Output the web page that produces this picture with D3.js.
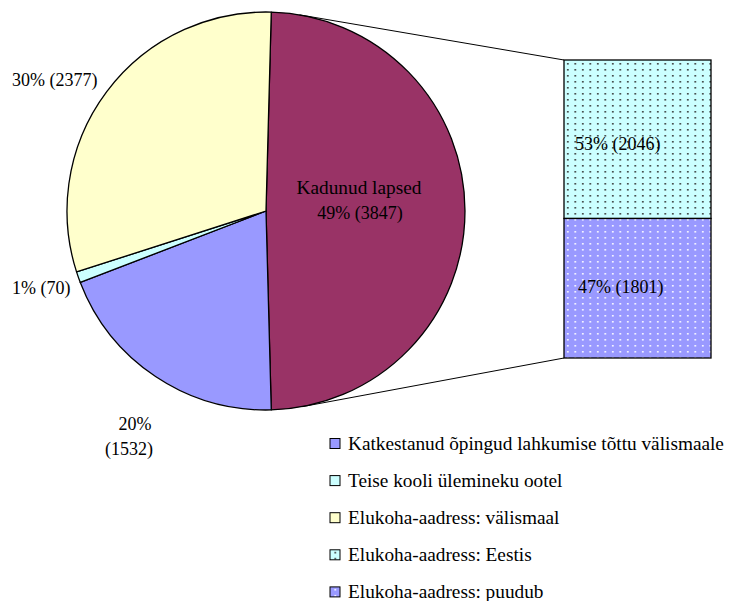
<!DOCTYPE html>
<html><head><meta charset="utf-8">
<script src="https://cdn.jsdelivr.net/npm/d3@7"></script>
<style>body{margin:0;background:#fff}svg{display:block}text{font-family:"Liberation Serif","Times New Roman",serif;font-size:18px;fill:#000}text.w{font-size:19.3px}</style>
</head><body>
<script>
const pieCategories = ["Kadunud lapsed", "Katkestanud õpingud lahkumise tõttu välismaale", "Teise kooli ülemineku ootel", "Elukoha-aadress: välismaal"];
const pieValues = [3847, 1532, 70, 2377];
const piePercent = ["49%", "20%", "1%", "30%"];
const pieColors = ["#993366", "#9999FF", "#CCFFFF", "#FFFFCC"];
const barCategories = ["Elukoha-aadress: Eestis", "Elukoha-aadress: puudub"];
const barValues = [2046, 1801];
const barPercent = ["53%", "47%"];
const legendLabels = ["Katkestanud õpingud lahkumise tõttu välismaale", "Teise kooli ülemineku ootel", "Elukoha-aadress: välismaal", "Elukoha-aadress: Eestis", "Elukoha-aadress: puudub"];

const W = 729, H = 601;
const svg = d3.select("body").append("svg").attr("width", W).attr("height", H);
const defs = svg.append("defs");
function pattern(id, bg, dot) {
  const p = defs.append("pattern").attr("id", id).attr("patternUnits", "userSpaceOnUse")
    .attr("width", 7.5).attr("height", 6).attr("x", 565).attr("y", 61);
  p.append("rect").attr("width", 7.5).attr("height", 6).attr("fill", bg);
  p.append("rect").attr("x", 2).attr("y", 2).attr("width", 1.6).attr("height", 1.6).attr("fill", dot);
}
pattern("pCyan", "#CCFFFF", "#333333");
pattern("pBlue", "#9999FF", "#FFFFFF");

const cx = 266, cy = 211, R = 199;
const total = d3.sum(pieValues);
const start = Math.PI / 2 - Math.PI * pieValues[0] / total;
const pie = d3.pie().sort(null).startAngle(start).endAngle(start + 2 * Math.PI);
const arcs = pie(pieValues);
const arc = d3.arc().innerRadius(0).outerRadius(R);
const g = svg.append("g").attr("transform", `translate(${cx},${cy})`);
g.selectAll("path").data(arcs).join("path")
  .attr("d", arc).attr("fill", (d, i) => pieColors[i])
  .attr("stroke", "#000").attr("stroke-width", 1.3).attr("stroke-linejoin", "round");

// bar
const barX = 564, barW = 147;
const y = d3.scaleLinear().domain([0, d3.sum(barValues)]).range([60, 358]);
const stack = d3.cumsum([0, ...barValues]);
const barFills = ["url(#pCyan)", "url(#pBlue)"];
svg.selectAll("rect.bar").data(barValues).join("rect").attr("class", "bar")
  .attr("x", barX).attr("width", barW)
  .attr("y", (d, i) => y(stack[i])).attr("height", (d, i) => y(stack[i + 1]) - y(stack[i]))
  .attr("fill", (d, i) => barFills[i]).attr("stroke", "#000").attr("stroke-width", 1.3);

// connector lines tangent to pie
function tangent(px, py, upper) {
  const dx = px - cx, dy = py - cy, d = Math.hypot(dx, dy);
  const th = Math.atan2(dy, dx), a = Math.acos(R / d);
  const t = upper ? th - a : th + a;
  return [cx + R * Math.cos(t), cy + R * Math.sin(t)];
}
const pTop = [barX, y(0)], pBot = [barX, y(d3.sum(barValues))];
[[pTop, true], [pBot, false]].forEach(([p, up]) => {
  const t = tangent(p[0], p[1], up);
  svg.append("line").attr("x1", t[0]).attr("y1", t[1]).attr("x2", p[0]).attr("y2", p[1])
    .attr("stroke", "#000").attr("stroke-width", 1);
});

// pie labels
const fmt = (i) => `${piePercent[i]} (${pieValues[i]})`;
svg.append("text").attr("class", "w").attr("x", 359).attr("y", 194).attr("text-anchor", "middle").text(pieCategories[0]);
svg.append("text").attr("x", 360).attr("y", 219).attr("text-anchor", "middle").text(fmt(0));
svg.append("text").attr("x", 12).attr("y", 86).text(fmt(3));
svg.append("text").attr("x", 12).attr("y", 294).text(fmt(2));
svg.append("text").attr("x", 135).attr("y", 430).attr("text-anchor", "middle").text(piePercent[1]);
svg.append("text").attr("x", 129).attr("y", 455).attr("text-anchor", "middle").text(`(${pieValues[1]})`);
// bar labels
svg.append("text").attr("x", 575).attr("y", 150).text(`${barPercent[0]} (${barValues[0]})`);
svg.append("text").attr("x", 578).attr("y", 293).text(`${barPercent[1]} (${barValues[1]})`);

// legend
const legendFills = [pieColors[1], pieColors[2], pieColors[3], "url(#pCyan)", "url(#pBlue)"];
const lg = svg.append("g");
const rows = lg.selectAll("g").data(legendLabels).join("g")
  .attr("transform", (d, i) => `translate(330,${443.5 + i * 37.1})`);
rows.append("rect").attr("x", 0).attr("y", -5).attr("width", 10).attr("height", 10)
  .attr("fill", (d, i) => legendFills[i]).attr("stroke", "#000").attr("stroke-width", 1);
rows.append("text").attr("class", "w").attr("x", 18).attr("y", 6).text(d => d);
</script>
</body></html>
